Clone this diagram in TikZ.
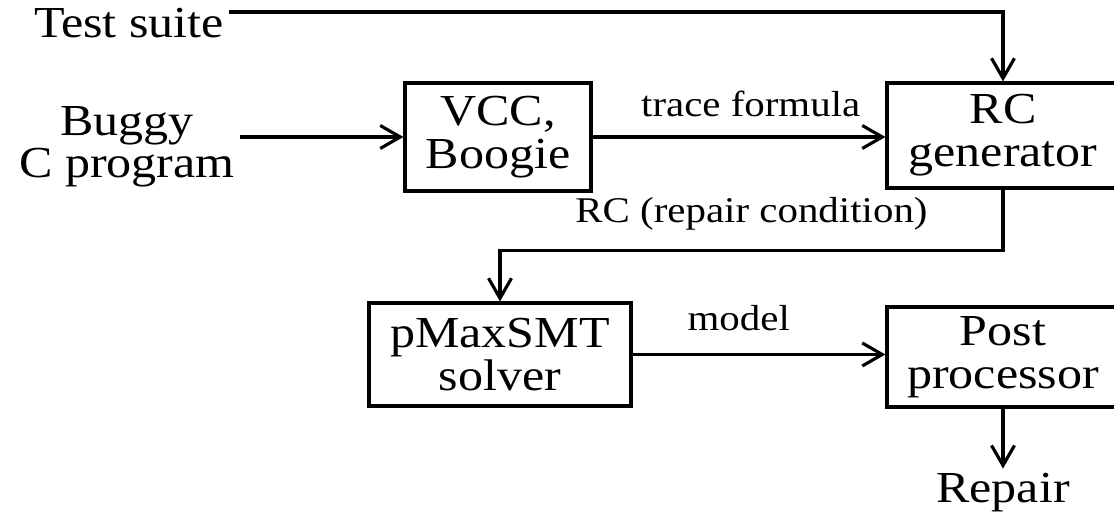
\documentclass[tikz,border=0pt]{standalone}
\usepackage{fontspec}
\setmainfont{Liberation Serif}[FakeStretch=1.13]
\usetikzlibrary{arrows.meta,positioning}

\begin{document}
\begin{tikzpicture}[
    >={Straight Barb[length=2mm,width=2.3mm]},
    line width=0.9pt,
    block/.style={draw, line width=0.9pt, align=center, inner sep=0pt,
      font=\fontsize{12.6}{12.2}\selectfont},
    plain/.style={align=center, inner sep=1pt, font=\fontsize{12.6}{11.8}\selectfont},
    edgelabel/.style={font=\fontsize{10.3}{12}\selectfont, inner sep=2pt},
  ]
  \useasboundingbox (0,0) rectangle (11.14,-5.12);

  % ========= INPUTS =========
  \node[plain] (tests) at (1.29,-0.23) {Test suite};
  \node[plain] (buggy) at (1.27,-1.47) {Buggy\\C program};

  % ========= BLOCKS =========
  \node[block, minimum width=1.86cm, minimum height=1.08cm] (vcc) at (4.98,-1.37) {VCC,\\Boogie};
  \node[block, minimum width=2.32cm, minimum height=1.05cm] (rcgen) at (10.03,-1.355) {RC\\generator};
  \node[block, minimum width=2.62cm, minimum height=1.03cm] (solver) at (5.00,-3.545) {pMaxSMT\\solver};
  \node[block, minimum width=2.32cm, minimum height=1.00cm] (post) at (10.03,-3.57) {Post\\processor};

  % output
  \node[plain, anchor=base] (repair) at (10.03,-5.03) {Repair};

  % ========= CONNECTORS =========
  \draw[->] ([yshift=1.1mm]tests.east) -| (rcgen.north);
  \draw[->] (buggy.east |- vcc.west) -- (vcc.west);
  \draw[->] (vcc.east) -- node[pos=0.54, above=1.2mm, edgelabel] {trace formula} (rcgen.west |- vcc.east);
  \draw[->] (rcgen.south) -- ++(0,-0.61) -| node[pos=0.25, above=1.2mm, edgelabel] {RC (repair condition)} (solver.north);
  \draw[->] (solver.east) -- node[pos=0.42, above=1.5mm, edgelabel] {model} (post.west |- solver.east);
  \draw[->] (post.south) -- (repair.north);
\end{tikzpicture}
\end{document}
